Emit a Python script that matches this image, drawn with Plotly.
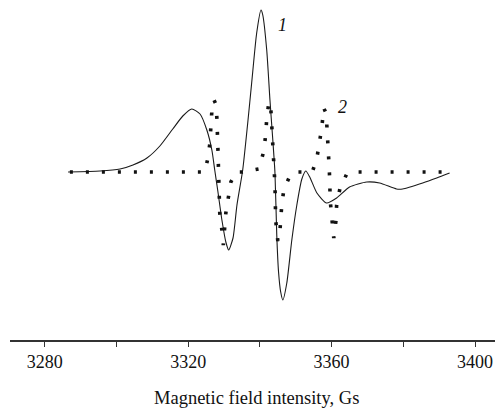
import plotly.graph_objects as go

# Curve 1 (solid): magnetic field (Gs) and signal intensity (arb. units)
field_1 = [3286.5, 3295.4, 3301.0, 3304.6, 3308.5, 3312.1, 3315.7, 3318.5, 3321.0, 3323.3,
           3325.2, 3326.6, 3327.4, 3328.3, 3329.4, 3330.5, 3331.3, 3332.5, 3333.6, 3335.2,
           3336.6, 3337.7, 3339.1, 3340.3, 3340.8, 3341.9, 3342.8, 3343.6, 3344.2, 3344.7,
           3345.2, 3345.8, 3346.4, 3347.5, 3348.9, 3350.3, 3351.7, 3352.8, 3353.9, 3355.9,
           3358.6, 3361.4, 3365.0, 3369.8, 3373.4, 3378.1, 3379.8, 3385.4, 3389.3, 3392.9]
signal_1 = [0, 1, 3, 7, 14, 26, 43, 56, 63, 58,
            42, 22, 2, -20, -48, -70, -78, -66, -33, 2,
            49, 89, 139, 162, 157, 122, 72, 32, -1, -63,
            -100, -120, -128, -111, -68, -33, -7, 1, -5, -21,
            -31, -26, -15, -10, -11, -17, -17, -11, -6, -1]

# Curve 2 (dotted)
field_2 = [3287.0, 3324.65, 3325.5, 3326.05, 3326.6, 3327.2, 3327.7, 3328.0, 3328.3, 3328.5,
           3328.8, 3329.4, 3329.8, 3330.5, 3331.1, 3331.9, 3333.3, 3335.2, 3339.7, 3341.1,
           3341.6, 3341.9, 3342.5, 3343.0, 3343.3, 3343.6, 3343.9, 3344.2, 3344.4, 3344.7,
           3345.0, 3345.5, 3345.8, 3346.1, 3346.7, 3348.6, 3349.8, 3354.6, 3355.85, 3356.7,
           3357.25, 3357.8, 3358.3, 3358.6, 3358.9, 3359.2, 3359.35, 3359.5, 3359.6, 3360.0,
           3360.3, 3360.6, 3361.2, 3361.4, 3362.3, 3364.2, 3365.6, 3391.0]
signal_2 = [0, 0, 14, 29, 61, 72, 68, 54, 22, -8,
            -41, -58, -73, -41, -25, -10, 0, 0, 3, 21,
            37, 53, 70, 66, 47, 31, 15, -13, -48, -66,
            -69, -63, -49, -33, -17, -2, 0, 0, 13, 29,
            44, 64, 60, 51, 35, 20, 3, -12, -28, -44,
            -60, -66, -49, -33, -17, -2, 0, 0]

tick_values = [3280, 3300, 3320, 3340, 3360, 3380, 3400]
tick_labels = ["3280", "", "3320", "", "3360", "", "3400"]

SERIF = "Liberation Serif, Times New Roman, DejaVu Serif, serif"

fig = go.Figure()
fig.add_trace(go.Scatter(x=field_1, y=signal_1, mode="lines",
                         line=dict(color="#1a1a1a", width=1.1, shape="spline", smoothing=0.6),
                         showlegend=False, hoverinfo="skip"))
fig.add_trace(go.Scatter(x=field_2, y=signal_2, mode="lines",
                         line=dict(color="#111111", width=3.6, dash="3px,13px"),
                         showlegend=False, hoverinfo="skip"))

fig.add_annotation(x=3346.4, y=147, text="<i>1</i>", showarrow=False,
                   font=dict(family=SERIF, size=18, color="#111"))
fig.add_annotation(x=3363.1, y=65, text="<i>2</i>", showarrow=False,
                   font=dict(family=SERIF, size=18, color="#111"))
fig.add_annotation(xref="paper", yref="paper", x=0.5, y=-0.175, yanchor="middle",
                   text="Magnetic field intensity, Gs", showarrow=False,
                   font=dict(family=SERIF, size=18.5, color="#111"))

fig.update_layout(
    width=495, height=400,
    margin=dict(l=2, r=0, t=0, b=68),
    paper_bgcolor="white", plot_bgcolor="white",
    xaxis=dict(range=[3270.3, 3407.8], showgrid=False, zeroline=False,
               showline=True, linecolor="#333", linewidth=1.5,
               ticks="outside", ticklen=5, tickwidth=1.3, tickcolor="#333",
               tickvals=tick_values, ticktext=tick_labels,
               tickfont=dict(family=SERIF, size=18, color="#111")),
    yaxis=dict(range=[-168, 164], visible=False, showgrid=False, zeroline=False),
)

fig.write_html("out.html")
